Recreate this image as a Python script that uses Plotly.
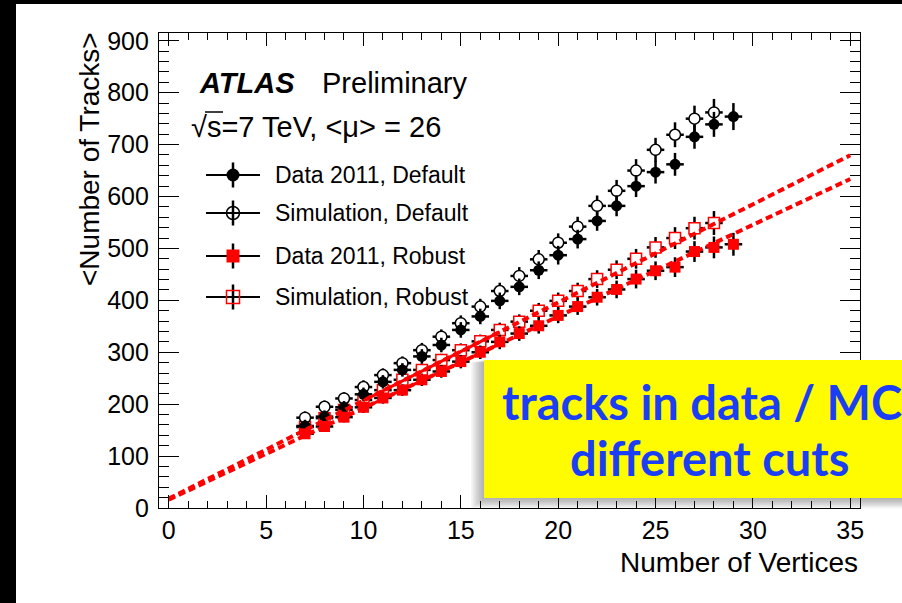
import plotly.graph_objects as go

# ---------------- data ----------------
x_data_default = list(range(7, 30))
y_data_default = [158, 176, 194, 219, 243, 266, 292, 314, 343, 369, 399, 426,
                  458, 487, 518, 553, 582, 620, 647, 662, 715, 739, 754]
e_data_default = [12, 12, 12, 13, 13, 13, 14, 14, 15, 15, 16, 16, 17, 18, 18,
                  19, 20, 21, 22, 22, 23, 24, 26]

x_sim_default = list(range(7, 29))
y_sim_default = [174, 195, 211, 233, 256, 279, 304, 330, 356, 388, 418, 447,
                 479, 511, 542, 582, 611, 650, 690, 719, 750, 762]
e_sim_default = [12, 12, 12, 13, 13, 13, 14, 14, 15, 15, 16, 17, 18, 18, 19,
                 20, 21, 22, 23, 24, 25, 26]

x_data_robust = list(range(7, 30))
y_data_robust = [143, 157, 175, 194, 212, 227, 247, 263, 282, 300, 320, 336,
                 351, 371, 388, 406, 421, 441, 457, 464, 494, 502, 508]
e_data_robust = [10, 10, 10, 11, 11, 11, 12, 12, 13, 13, 14, 14, 15, 15, 16,
                 16, 17, 18, 18, 19, 20, 21, 22]

x_sim_robust = list(range(7, 29))
y_sim_robust = [156, 173, 189, 208, 227, 247, 266, 285, 304, 321, 343, 359,
                380, 399, 418, 441, 459, 480, 502, 520, 539, 549]
e_sim_robust = [10, 10, 10, 11, 11, 11, 12, 12, 13, 13, 14, 14, 15, 16, 16,
                17, 18, 19, 20, 21, 22, 23]

# linear fits (intercept, slope), fit range and extrapolation range
fit_sim_robust = (18.0, 18.9)
fit_data_robust = (16.0, 17.65)
fit_range = [10, 17]
extrap_range = [0, 35]

legend_labels = ["Data 2011, Default", "Simulation, Default",
                 "Data 2011, Robust", "Simulation, Robust"]

# ---------------- layout helpers ----------------
W, H = 902, 603
L, R, T, B = 159, 860, 33, 508   # plot area in pixels


def px(xp):
    return (xp - L) / (R - L)


def py(yp):
    return (B - yp) / (B - T)


FONT = "Liberation Sans, Arial, Helvetica, sans-serif"
RED = "#ff0000"

fig = go.Figure()

err_style = dict(color="black", thickness=2.5, width=0)


def add_points(x, y, e, symbol, color, line_color, line_width, size):
    fig.add_trace(go.Scatter(
        x=x, y=y, mode="markers",
        marker=dict(symbol=symbol, color=color, size=size,
                    line=dict(color=line_color, width=line_width)),
        error_y=dict(type="data", array=e, visible=True, **err_style),
        error_x=dict(type="constant", value=0.45, visible=True, **err_style),
        hoverinfo="skip", showlegend=False))


add_points(x_sim_robust, y_sim_robust, e_sim_robust, "square", "white", RED, 1.5, 11)
add_points(x_sim_default, y_sim_default, e_sim_default, "circle", "white", "black", 1.5, 11)
add_points(x_data_default, y_data_default, e_data_default, "circle", "black", "black", 0, 11)
add_points(x_data_robust, y_data_robust, e_data_robust, "square", RED, RED, 0, 11)

# fit lines
for a, b in (fit_sim_robust, fit_data_robust):
    fig.add_trace(go.Scatter(
        x=extrap_range, y=[a + b * v for v in extrap_range], mode="lines",
        line=dict(color=RED, width=4, dash="7px,4px"),
        hoverinfo="skip", showlegend=False))
    fig.add_trace(go.Scatter(
        x=fit_range, y=[a + b * v for v in fit_range], mode="lines",
        line=dict(color=RED, width=3),
        hoverinfo="skip", showlegend=False))

# ---------------- hand-made legend (overlay axes in plot-area units) ----------------
leg_rows_px = [175, 213, 256, 297]
leg_marker_x = px(233)
leg_half_w = 27 / (R - L)
leg_half_h = 12.5 / (B - T)
leg_styles = [
    dict(symbol="circle", color="black", line=dict(color="black", width=0), size=13),
    dict(symbol="circle-open", color="black", line=dict(color="black", width=1.5), size=13),
    dict(symbol="square", color=RED, line=dict(color=RED, width=0), size=13),
    dict(symbol="square-open", color=RED, line=dict(color=RED, width=1.5), size=13),
]
for rp, st, lab in zip(leg_rows_px, leg_styles, legend_labels):
    fig.add_trace(go.Scatter(
        x=[leg_marker_x], y=[py(rp)], mode="markers", marker=st,
        error_x=dict(type="constant", value=leg_half_w, color="black", thickness=2.2, width=0),
        error_y=dict(type="constant", value=leg_half_h, color="black", thickness=2.5, width=0),
        xaxis="x2", yaxis="y2", hoverinfo="skip", showlegend=False))

annotations = []
for rp, lab in zip(leg_rows_px, legend_labels):
    annotations.append(dict(x=px(273), y=py(rp), xref="paper", yref="paper",
                            text=lab, showarrow=False, xanchor="left", yanchor="middle",
                            font=dict(family=FONT, size=23, color="black")))

BOX_FONT = dict(family="Lato, Open Sans, sans-serif", size=47, color="#1a3ef5")
annotations += [
    dict(x=px(197), y=py(83), xref="paper", yref="paper", text="<b><i>ATLAS</i></b>",
         showarrow=False, xanchor="left", yanchor="middle",
         font=dict(family=FONT, size=29, color="black")),
    dict(x=px(320), y=py(83), xref="paper", yref="paper", text="Preliminary",
         showarrow=False, xanchor="left", yanchor="middle",
         font=dict(family=FONT, size=29, color="black")),
    dict(x=px(189), y=py(127), xref="paper", yref="paper",
         text="√s=7 TeV, &lt;μ&gt; = 26",
         showarrow=False, xanchor="left", yanchor="middle",
         font=dict(family=FONT, size=29, color="black")),
    dict(x=px(90), y=py(30), xref="paper", yref="paper",
         text="&lt;Number of Tracks&gt;", textangle=-90,
         showarrow=False, xanchor="center", yanchor="top",
         font=dict(family=FONT, size=28, color="black")),
    dict(x=1.0, y=py(562), xref="paper", yref="paper", text="Number of Vertices",
         showarrow=False, xanchor="right", yanchor="middle",
         font=dict(family=FONT, size=28, color="black")),
    dict(x=px(500), y=py(402), xref="paper", yref="paper",
         text="<b>tracks in data / MC,</b>",
         showarrow=False, xanchor="left", yanchor="middle", font=BOX_FONT),
    dict(x=px(710), y=py(458), xref="paper", yref="paper",
         text="<b>different cuts</b>",
         showarrow=False, xanchor="center", yanchor="middle", font=BOX_FONT),
]

shapes = [
    # black frame bands of the screenshot
    dict(type="rect", xref="paper", yref="paper", x0=px(-5), x1=px(16), y0=py(610), y1=py(-5),
         fillcolor="black", line=dict(width=0), layer="above"),
    dict(type="rect", xref="paper", yref="paper", x0=px(-5), x1=px(910), y0=py(4), y1=py(-5),
         fillcolor="black", line=dict(width=0), layer="above"),
    # overline of the square root
    dict(type="line", xref="paper", yref="paper", x0=px(205), x1=px(223), y0=py(112), y1=py(112),
         line=dict(color="black", width=1.5), layer="above"),
]
# soft shadow of the yellow box
for k in range(1, 9):
    shapes.append(dict(type="rect", xref="paper", yref="paper",
                       x0=px(484 - 1.6 * k), x1=px(930), y0=py(498 + 1.3 * k), y1=py(360 + 0.3 * k),
                       fillcolor="rgba(60,60,60,0.055)", line=dict(width=0), layer="above"))
shapes.append(dict(type="rect", xref="paper", yref="paper",
                   x0=px(484), x1=px(930), y0=py(498), y1=py(360),
                   fillcolor="#fffb00", line=dict(width=0), layer="above"))

axis_common = dict(showline=True, linecolor="black", linewidth=1.3, mirror="ticks",
                   ticks="inside", tickcolor="black", tickwidth=1.3,
                   showgrid=False, zeroline=False,
                   tickfont=dict(family=FONT, size=25, color="black"))

fig.update_layout(
    width=W, height=H,
    margin=dict(l=L, r=W - R, t=T, b=H - B, pad=0),
    paper_bgcolor="white", plot_bgcolor="white",
    showlegend=False,
    xaxis=dict(range=[-0.5, 35.5], dtick=5, tick0=0, ticklen=13,
               minor=dict(dtick=1, ticklen=7, ticks="inside", tickcolor="black", tickwidth=1.3),
               ticklabelstandoff=0, **axis_common),
    yaxis=dict(range=[0, 915], dtick=100, tick0=0, ticklen=20,
               minor=dict(dtick=20, ticklen=10, ticks="inside", tickcolor="black", tickwidth=1.3),
               ticklabelstandoff=4, **axis_common),
    xaxis2=dict(overlaying="x", range=[0, 1], visible=False),
    yaxis2=dict(overlaying="y", range=[0, 1], visible=False),
    annotations=annotations,
    shapes=shapes,
)

fig.write_html(
    "out.html",
    config={"displayModeBar": False},
    post_script="document.documentElement.style.overflow='hidden';"
                "document.documentElement.style.background='white';"
                "document.body.style.background='white';"
                "document.body.style.margin='0';document.body.style.overflow='hidden';",
)
